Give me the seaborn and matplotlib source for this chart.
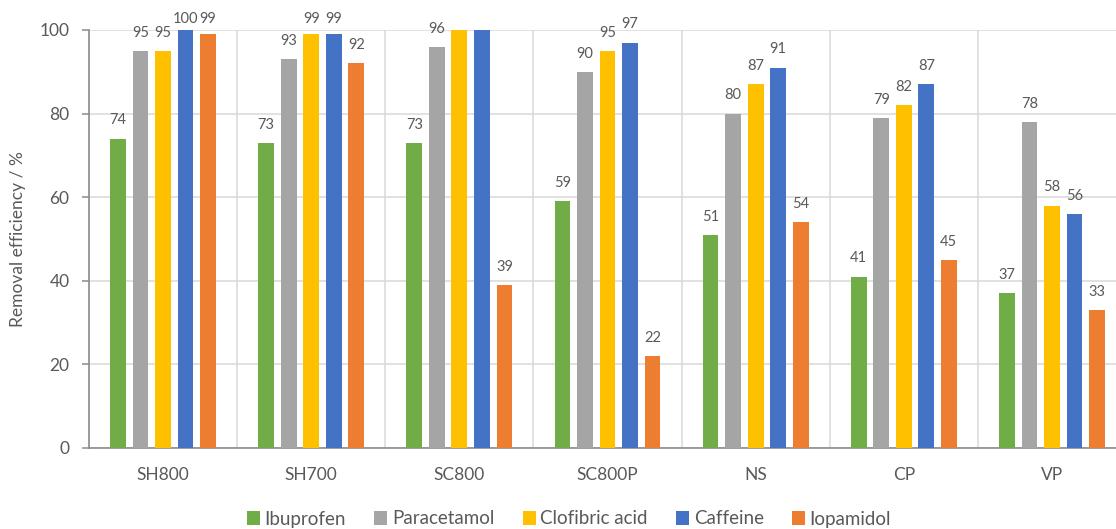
import matplotlib
matplotlib.use("Agg")
import matplotlib.pyplot as plt
import seaborn as sns
import pandas as pd

# Adsorbent samples and target compounds
samples = ["SH800", "SH700", "SC800", "SC800P", "NS", "CP", "VP"]
compounds = ["Ibuprofen", "Paracetamol", "Clofibric acid", "Caffeine", "Iopamidol"]

# Removal efficiency (%) per compound, listed in sample order
ibuprofen = [74, 73, 73, 59, 51, 41, 37]
paracetamol = [95, 93, 96, 90, 80, 79, 78]
clofibric_acid = [95, 99, 100, 95, 87, 82, 58]
caffeine = [100, 99, 100, 97, 91, 87, 56]
iopamidol = [99, 92, 39, 22, 54, 45, 33]

# Which bars carry a value label (the two SC800 bars at full scale carry none)
show_label = {
    "Ibuprofen": [True] * 7,
    "Paracetamol": [True] * 7,
    "Clofibric acid": [True, True, False, True, True, True, True],
    "Caffeine": [True, True, False, True, True, True, True],
    "Iopamidol": [True] * 7,
}

colors = ["#70AD47", "#A5A5A5", "#FFC000", "#4472C4", "#ED7D31"]
text_color = "#595959"

series = [ibuprofen, paracetamol, clofibric_acid, caffeine, iopamidol]
df = pd.DataFrame(
    [(s, c, v) for c, vals in zip(compounds, series) for s, v in zip(samples, vals)],
    columns=["sample", "compound", "value"],
)

sns.set_theme(style="white")
plt.rcParams["font.family"] = ["Lato", "DejaVu Sans"]
plt.rcParams["text.color"] = text_color
plt.rcParams["axes.labelcolor"] = text_color
plt.rcParams["xtick.color"] = text_color
plt.rcParams["ytick.color"] = text_color

fig = plt.figure(figsize=(11.16, 5.29), dpi=100)
W, H = 1116, 529
ax = fig.add_axes([89 / W, 1 - 448 / H, 1037 / W, (448 - 30) / H])

sns.barplot(
    data=df, x="sample", y="value", hue="compound",
    order=samples, hue_order=compounds, palette=colors,
    width=0.76, gap=0.30, saturation=1, errorbar=None,
    linewidth=0, ax=ax, zorder=3,
)

ax.set_ylim(0, 100)
ax.set_xlim(-0.5, len(samples) - 0.5)
ax.set_yticks([0, 20, 40, 60, 80, 100])
ax.set_xticks(range(len(samples)))
ax.set_xticklabels(samples)

# Gridlines: horizontal at major y ticks, vertical at category boundaries
ax.set_xticks([i - 0.5 for i in range(len(samples) + 1)], minor=True)
ax.grid(axis="y", which="major", color="#D9D9D9", linewidth=1.1, zorder=0)
ax.grid(axis="x", which="minor", color="#D9D9D9", linewidth=1.1, zorder=0)
ax.set_axisbelow(True)

for side in ["top", "right"]:
    ax.spines[side].set_visible(False)
for side in ["left", "bottom"]:
    ax.spines[side].set_color("#8C8C8C")
    ax.spines[side].set_linewidth(1.2)

ax.tick_params(axis="y", which="major", length=5, width=1.1, color="#8C8C8C",
               pad=9, labelsize=12.5, left=True)
ax.tick_params(axis="x", which="both", length=0, pad=14, labelsize=12.5)

ax.set_xlabel("")
ax.set_ylabel("Removal efficiency / %", fontsize=12.5)
ax.yaxis.set_label_coords(-0.061, 0.5)

# Value labels above the bars
for cont, comp in zip(ax.containers, compounds):
    vals = series[compounds.index(comp)]
    for bar, v, show in zip(cont.patches, vals, show_label[comp]):
        if not show:
            continue
        xc = bar.get_x() + bar.get_width() / 2
        y = min(v + 3.4, 101.6)
        ax.text(xc, y, f"{v:.0f}", ha="center", va="baseline",
                fontsize=10.5, color=text_color, clip_on=False)

handles, labels = ax.get_legend_handles_labels()
if ax.get_legend() is not None:
    ax.get_legend().remove()
fig.legend(
    handles, labels, loc="center", ncol=5, frameon=False,
    bbox_to_anchor=(569 / W, 1 - 519 / H), fontsize=13.5,
    handlelength=0.7, handleheight=0.7, handletextpad=0.25,
    columnspacing=1.5,
)

fig.savefig("out.png", dpi=100)
